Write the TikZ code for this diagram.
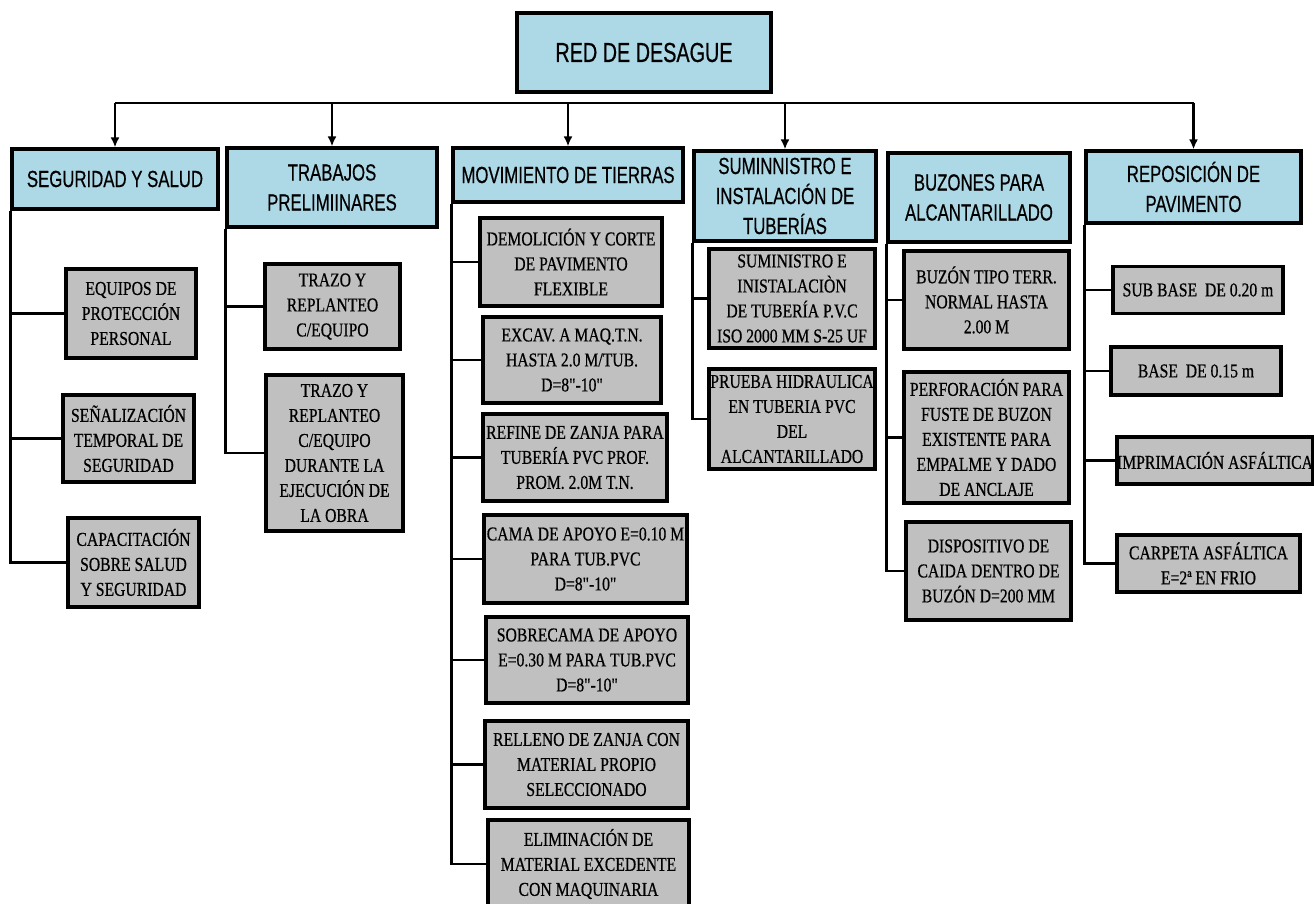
\documentclass[tikz,border=0pt]{standalone}
\usepackage{fontspec}
\setmainfont{Liberation Serif}[FakeStretch=0.8,FakeBold=0.6,Ligatures=TeXOff]
\newfontfamily\hdrfont{Liberation Sans}[FakeStretch=0.72,FakeBold=0.5]
\usetikzlibrary{arrows.meta}
\definecolor{hdrblue}{HTML}{ADD8E6}
\definecolor{itemgray}{HTML}{C0C0C0}

\begin{document}
\begin{tikzpicture}[x=1pt,y=-1pt,
  box/.style={draw=black,line width=3.2pt,inner sep=0pt,align=center,anchor=center},
  rootbox/.style={box,fill=hdrblue,font=\hdrfont\fontsize{27.5}{33}\selectfont},
  headbox/.style={box,fill=hdrblue,font=\hdrfont\fontsize{23.3}{30}\selectfont},
  itembox/.style={box,fill=itemgray,font=\fontsize{19.6}{25}\selectfont},
  link/.style={line width=2.8pt},
  arr/.style={link,-{Latex[length=10pt,width=9pt]}},
]
\clip (0,0) rectangle (1314,904);
\fill[white] (0,0) rectangle (1314,904);

% root
\node[rootbox,minimum width=254,minimum height=79] (root) at (644,52.5) {RED DE DESAGUE};

% main groups
\node[headbox,minimum width=206,minimum height=60] (h1) at (115,179) {SEGURIDAD Y SALUD};
\node[headbox,minimum width=210,minimum height=79] (h2) at (332,187.5) {TRABAJOS\\PRELIMIINARES};
\node[headbox,minimum width=230,minimum height=54] (h3) at (568,175) {MOVIMIENTO DE TIERRAS};
\node[headbox,minimum width=182,minimum height=90] (h4) at (785,196) {SUMINNISTRO E\\INSTALACIÓN DE\\TUBERÍAS};
\node[headbox,minimum width=182,minimum height=89] (h5) at (979,197.5) {BUZONES PARA\\ALCANTARILLADO};
\node[headbox,minimum width=215,minimum height=72] (h6) at (1193.5,187) {REPOSICIÓN DE\\PAVIMENTO};

% distribution bus and arrows
\coordinate (bus) at (0,103);
\draw[link] (h1.north |- bus) -- (h6.north |- bus);
\foreach \h in {h1,h2,h3,h4,h6}
  \draw[arr] (\h.north |- bus) -- (\h.north);

% seguridad y salud
\node[itembox,minimum width=130,minimum height=89] (c11) at (131,313.5) {EQUIPOS DE\\PROTECCIÓN\\PERSONAL};
\node[itembox,minimum width=131,minimum height=87] (c12) at (128.5,438.5) {SEÑALIZACIÓN\\TEMPORAL DE\\SEGURIDAD};
\node[itembox,minimum width=131,minimum height=89] (c13) at (133.5,562.5) {CAPACITACIÓN\\SOBRE SALUD\\Y SEGURIDAD};

% trabajos preliminares
\node[itembox,minimum width=135,minimum height=85] (c21) at (332.5,306.5) {TRAZO Y\\REPLANTEO\\C/EQUIPO};
\node[itembox,minimum width=137,minimum height=156] (c22) at (334.5,453) {TRAZO Y\\REPLANTEO\\C/EQUIPO\\DURANTE LA\\EJECUCIÓN DE\\LA OBRA};

% movimiento de tierras
\node[itembox,minimum width=182,minimum height=88] (c31) at (571,262) {DEMOLICIÓN Y CORTE\\DE PAVIMENTO\\FLEXIBLE};
\node[itembox,minimum width=178,minimum height=86] (c32) at (572,360) {EXCAV. A MAQ.T.N.\\HASTA 2.0 M/TUB.\\D=8"-10"};
\node[itembox,minimum width=184,minimum height=87] (c33) at (575,457.5) {REFINE DE ZANJA PARA\\TUBERÍA PVC PROF.\\PROM. 2.0M T.N.};
\node[itembox,minimum width=203,minimum height=88] (c34) at (585.5,559) {CAMA DE APOYO E=0.10 M\\PARA TUB.PVC\\D=8"-10"};
\node[itembox,minimum width=202,minimum height=86] (c35) at (587,660) {SOBRECAMA DE APOYO\\E=0.30 M PARA TUB.PVC\\D=8"-10"};
\node[itembox,minimum width=203,minimum height=87] (c36) at (586.5,764.5) {RELLENO DE ZANJA CON\\MATERIAL PROPIO\\SELECCIONADO};
\node[itembox,minimum width=201,minimum height=88] (c37) at (588.5,864) {ELIMINACIÓN DE\\MATERIAL EXCEDENTE\\CON MAQUINARIA};

% suministro e instalacion
\node[itembox,minimum width=166,minimum height=99] (c41) at (792,298.5) {SUMINISTRO E\\INISTALACIÒN\\DE TUBERÍA P.V.C\\ISO 2000 MM S-25 UF};
\node[itembox,minimum width=166,minimum height=100] (c42) at (792,419) {PRUEBA HIDRAULICA\\EN TUBERIA PVC\\DEL\\ALCANTARILLADO};

% buzones
\node[itembox,minimum width=165,minimum height=98] (c51) at (986.5,300) {BUZÓN TIPO TERR.\\NORMAL HASTA\\2.00 M};
\node[itembox,minimum width=165,minimum height=131] (c52) at (986.5,437.5) {PERFORACIÓN PARA\\FUSTE DE BUZON\\EXISTENTE PARA\\EMPALME Y DADO\\DE ANCLAJE};
\node[itembox,minimum width=165,minimum height=98] (c53) at (988.5,571) {DISPOSITIVO DE\\CAIDA DENTRO DE\\BUZÓN D=200 MM};

% reposicion de pavimento
\node[itembox,minimum width=170,minimum height=47] (c61) at (1198,290) {SUB BASE\ \ DE 0.20 m};
\node[itembox,minimum width=170,minimum height=48] (c62) at (1196,371) {BASE\ \ DE 0.15 m};
\node[itembox,minimum width=196,minimum height=47] (c63) at (1215,460.5) {IMPRIMACIÓN ASFÁLTICA};
\node[itembox,minimum width=183,minimum height=57] (c64) at (1208.5,563.5) {CARPETA ASFÁLTICA\\E=2ª EN FRIO};

% branch lines from each group
\draw[link] (h1.south west) |- (c13.west);
\foreach \c in {c11,c12} \draw[link] (h1.south west |- \c.west) -- (\c.west);

\draw[link] (h2.south west) |- (c22.west);
\draw[link] (h2.south west |- c21.west) -- (c21.west);

\draw[link] (h3.south west) |- (c37.west);
\foreach \c in {c31,c32,c33,c34,c35,c36} \draw[link] (h3.south west |- \c.west) -- (\c.west);

\draw[link] (h4.south west) |- (c42.west);
\draw[link] (h4.south west |- c41.west) -- (c41.west);

\draw[link] (h5.south west) |- (c53.west);
\foreach \c in {c51,c52} \draw[link] (h5.south west |- \c.west) -- (\c.west);

\draw[link] (h6.south west) |- (c64.west);
\foreach \c in {c61,c62,c63} \draw[link] (h6.south west |- \c.west) -- (\c.west);
\end{tikzpicture}
\end{document}
